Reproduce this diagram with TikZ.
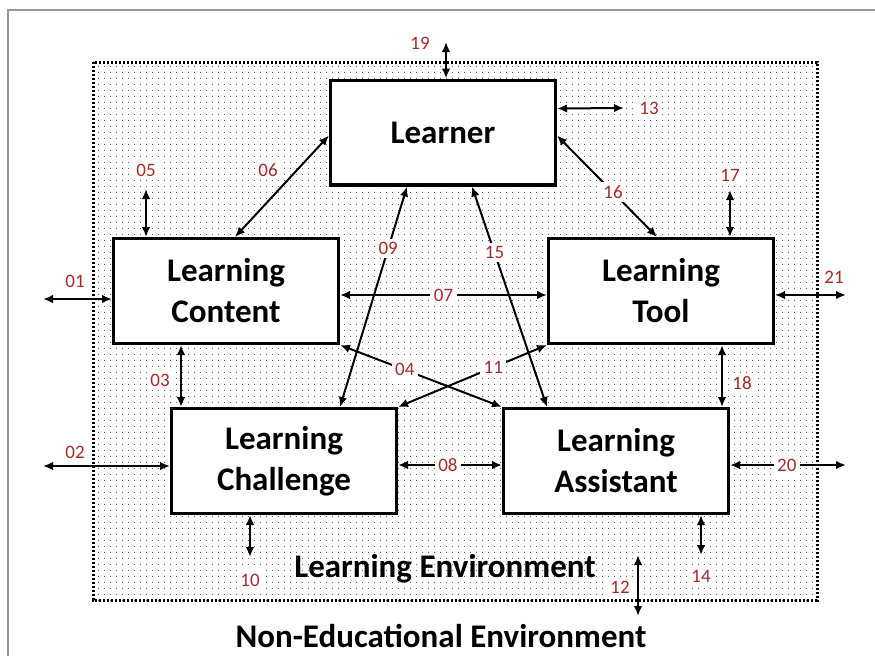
\documentclass[tikz,border=0pt]{standalone}
\usepackage{fontspec}
\setmainfont{Carlito}
\usepackage{xcolor}
\usetikzlibrary{calc,arrows.meta,patterns.meta}
\definecolor{numred}{RGB}{165,42,42}
\definecolor{framegray}{RGB}{150,150,150}
\tikzdeclarepattern{
	name=envdots,
	type=colored,
	bounding box={(0pt,0pt) and (6pt,6pt)},
	tile size={(6pt,6pt)},
	code={\fill[black!85] (3pt,3pt) circle (0.55pt);}
}

\begin{document}
\begin{tikzpicture}
	[x=1pt,y=-1pt]
	\tikzstyle{box} = [draw, line width=3.4pt, fill=white, minimum width=224.6pt, minimum height=104.6pt, align=center, font=\bfseries\fontsize{33}{41}\selectfont];
	\tikzstyle{edges} = [line width=2pt, {Latex[length=10pt,width=8.5pt]}-{Latex[length=10pt,width=8.5pt]}];
	\tikzstyle{num} = [fill=white, inner sep=3.5pt, text=numred, font=\fontsize{19}{19}\selectfont];
	\tikzstyle{envtext} = [inner sep=0pt, font=\bfseries\fontsize{33}{40}\selectfont];
	
	\useasboundingbox (0,0) rectangle (875,656);
	\draw[framegray, line width=1.2pt] (8,656) -- (8,10) -- (875,10);
	\draw[line width=3pt, dash pattern=on 2.4pt off 1.6pt, pattern=envdots] (93,62) rectangle (817,600);
	
	\node[box] (lr) at (443,132.5) {Learner};
	\node[box] (lc) at (226,291) {Learning\\Content};
	\node[box] (lt) at (661,291) {Learning\\Tool};
	\node[box] (lch) at (284,461) {Learning\\Challenge};
	\node[box] (la) at (616,461) {Learning\\Assistant};
	\node[envtext] (le) at (445,569) {Learning Environment};
	\node[envtext] (ne) at (441,636) {Non-Educational Environment};
	
	\coordinate (e01) at (43,299);
	\coordinate (e02) at (43,466);
	\coordinate (e05) at (146,189);
	\coordinate (e10) at (250,557);
	\coordinate (e12a) at (638,555);
	\coordinate (e12b) at (638,616);
	\coordinate (e13) at (624,108);
	\coordinate (e14) at (701,555);
	\coordinate (e17) at (730,190);
	\coordinate (e19) at (446,42);
	\coordinate (e20) at (846,465);
	\coordinate (e21) at (846,295);
	
	\draw[edges] (e01) -- ($(lc.west)+(0,8)$);
	\draw[edges] (e02) -- ($(lch.west)+(0,5)$);
	\draw[edges] ($(lc.south west)+(69,0)$) -- ($(lch.north west)+(11,0)$);
	\draw[edges] (lc.south east) -- node[num, pos=0.4] {04} (la.north west);
	\draw[edges] (e05) -- ($(lc.north west)+(34,0)$);
	\draw[edges] ($(lc.north west)+(123,0)$) -- ($(lr.north west)+(0,57)$);
	\draw[edges] ($(lc.east)+(0,4)$) -- node[num, pos=0.5] {07} ($(lt.west)+(0,4)$);
	\draw[edges] ($(lch.east)+(0,4)$) -- node[num, pos=0.48] {08} ($(la.west)+(0,4)$);
	\draw[edges] ($(lch.north west)+(170,0)$) -- node[num, pos=0.72] {09} ($(lr.south west)+(78,0)$);
	\draw[edges] ($(lch.south west)+(80,0)$) -- (e10);
	\draw[edges] (lch.north east) -- node[num, pos=0.64] {11} (lt.south west);
	\draw[edges] (e12a) -- (e12b);
	\draw[edges] ($(lr.north east)+(0,30)$) -- (e13);
	\draw[edges] ($(la.south west)+(199,0)$) -- (e14);
	\draw[edges] ($(lr.south west)+(143,0)$) -- node[num, pos=0.3] {15} ($(la.north west)+(45,0)$);
	\draw[edges] ($(lr.north east)+(0,57)$) -- node[num, pos=0.56] {16} ($(lt.north west)+(110,0)$);
	\draw[edges] (e17) -- ($(lt.north west)+(183,0)$);
	\draw[edges] ($(lt.south west)+(175,0)$) -- ($(la.north west)+(220,0)$);
	\draw[edges] (e19) -- ($(lr.north west)+(117,0)$);
	\draw[edges] ($(la.east)+(0,4)$) -- node[num, pos=0.49] {20} (e20);
	\draw[edges] ($(lt.east)+(0,4)$) -- (e21);
	
	\node[num] (n01) at (75,281) {01};
	\node[num] (n02) at (75,452) {02};
	\node[num] (n03) at (160,380) {03};
	\node[num] (n05) at (146,170) {05};
	\node[num] (n06) at (268,170) {06};
	\node[num] (n10) at (250,580) {10};
	\node[num] (n12) at (620,587) {12};
	\node[num] (n13) at (649,108) {13};
	\node[num] (n14) at (701,576) {14};
	\node[num] (n17) at (730,175) {17};
	\node[num] (n18) at (742,383) {18};
	\node[num] (n19) at (420,43) {19};
	\node[num] (n21) at (834,277) {21};
\end{tikzpicture}
\end{document}
